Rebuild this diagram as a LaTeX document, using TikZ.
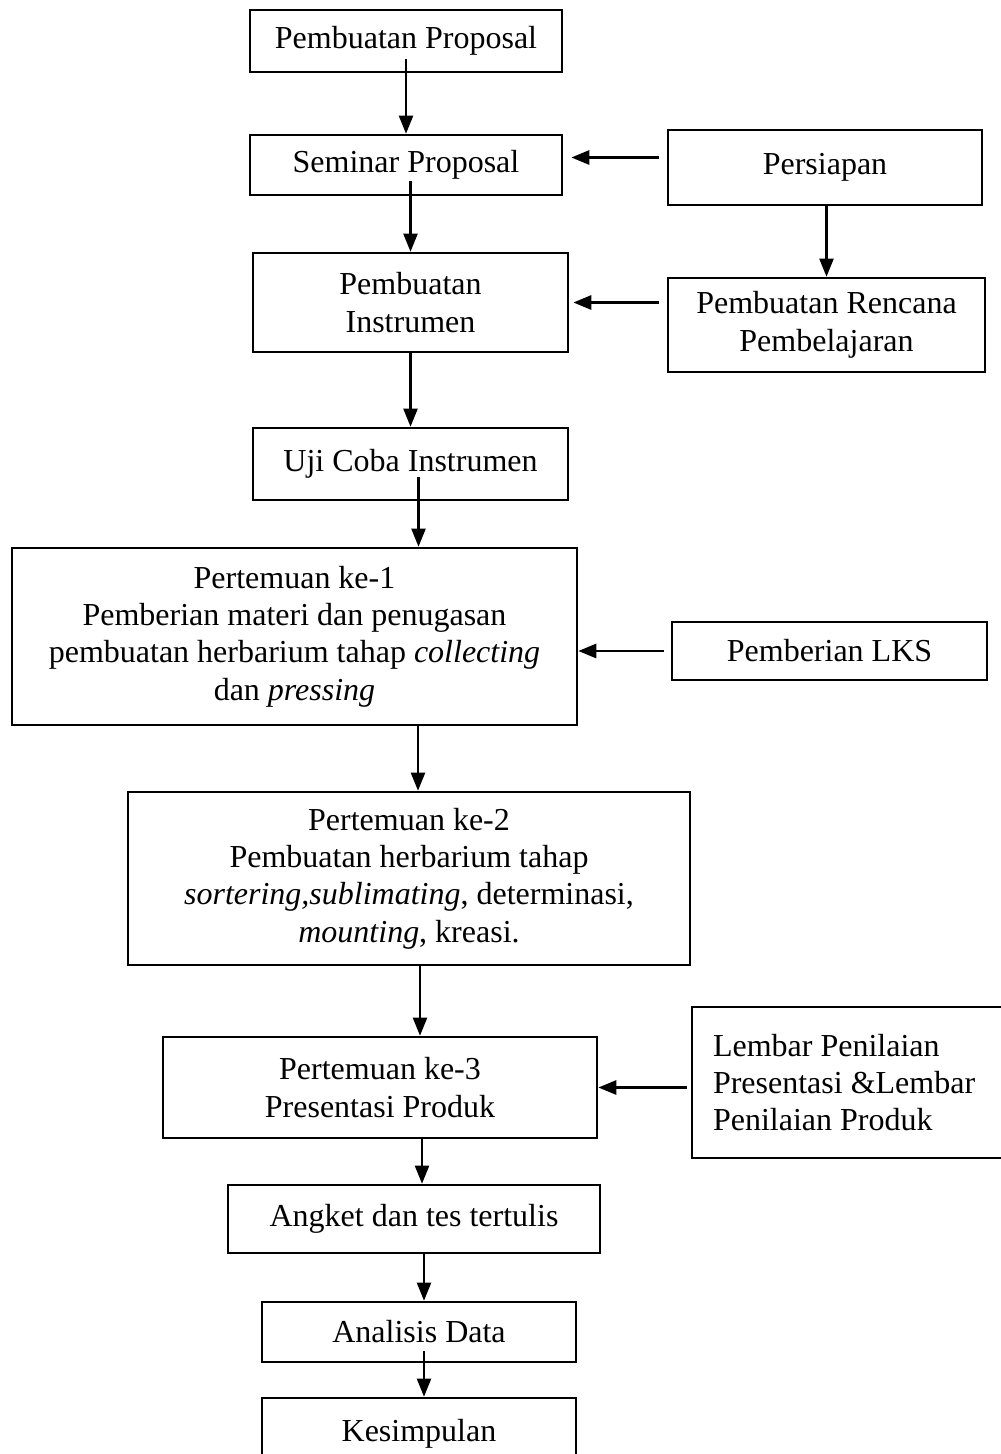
\documentclass[tikz,border=0pt]{standalone}
\usepackage{fontspec}
\setmainfont{Liberation Serif}
\usetikzlibrary{arrows.meta}
\tikzstyle{stepbox}=[draw,%
                     rectangle,%
                     line width=1.3pt,%
                     inner sep=0pt,%
                     align=center]
\tikzstyle{flow}=[->,line width=1.1pt]
\tikzstyle{feed}=[->,line width=1.4pt]

\begin{document}
\begin{tikzpicture}[x=0.5pt,y=-0.5pt,>={Triangle[length=9pt,width=7pt]},
                    font=\fontsize{16}{18.7}\selectfont]
            \useasboundingbox (0,0) rectangle (1000,1454);
            % main column
            \node[stepbox,minimum width=156pt,minimum height=31pt] (prop) at (406,41) {Pembuatan Proposal};
            \node[stepbox,minimum width=156pt,minimum height=30pt] (sem) at (406,165) {Seminar Proposal};
            \node[stepbox,minimum width=157.5pt,minimum height=49.5pt] (instr) at (410.5,302.5) {Pembuatan\\Instrumen};
            \node[stepbox,minimum width=157.5pt,minimum height=36pt] (uji) at (410.5,464) {Uji Coba Instrumen};
            \node[stepbox,minimum width=282.5pt,minimum height=88.5pt] (p1) at (294.5,636.5) {Pertemuan ke-1\\Pemberian materi dan penugasan\\pembuatan herbarium tahap \textit{collecting}\\dan \textit{pressing}};
            \node[stepbox,minimum width=281pt,minimum height=86.5pt] (p2) at (409,878.5) {Pertemuan ke-2\\Pembuatan herbarium tahap\\\textit{sortering,sublimating}, determinasi,\\\textit{mounting}, kreasi.};
            \node[stepbox,minimum width=217pt,minimum height=50.5pt] (p3) at (380,1087.5) {Pertemuan ke-3\\Presentasi Produk};
            \node[stepbox,minimum width=186pt,minimum height=34pt] (angket) at (414,1219) {Angket dan tes tertulis};
            \node[stepbox,minimum width=157pt,minimum height=30pt] (anal) at (419,1332) {Analisis Data};
            \node[stepbox,minimum width=157pt,minimum height=36pt] (kes) at (419,1434) {Kesimpulan};
            % side column
            \node[stepbox,minimum width=157pt,minimum height=37.5pt] (pers) at (825,167.5) {Persiapan};
            \node[stepbox,minimum width=158.5pt,minimum height=47pt] (renc) at (826.5,325) {Pembuatan Rencana\\Pembelajaran};
            \node[stepbox,minimum width=157.5pt,minimum height=29pt] (lks) at (829.5,651) {Pemberian LKS};
            \node[stepbox,align=flush left,text width=139pt,inner xsep=10.5pt,minimum height=75.5pt] (lembar) at (852,1082.5) {Lembar Penilaian\\Presentasi \&Lembar\\Penilaian Produk};
            % vertical arrows
            \draw [flow,shorten <=-7pt] (prop.south) -- (sem.north);
            \draw [flow,shorten <=-7.5pt] (instr.north |- sem.south) -- (instr.north);
            \draw [flow] (instr.south) -- (uji.north);
            \draw [flow,shorten <=-12pt] ([xshift=4pt]uji.south) -- ([xshift=4pt]uji.south |- p1.north);
            \draw [flow] ([xshift=4.5pt]p2.north |- p1.south) -- ([xshift=4.5pt]p2.north);
            \draw [flow] ([xshift=5.5pt]p2.south) -- ([xshift=5.5pt]p2.south |- p3.north);
            \draw [flow] ([xshift=4pt]angket.north |- p3.south) -- ([xshift=4pt]angket.north);
            \draw [flow] ([xshift=2.5pt]anal.north |- angket.south) -- ([xshift=2.5pt]anal.north);
            \draw [flow,shorten <=-6pt] ([xshift=2.5pt]anal.south) -- ([xshift=2.5pt]kes.north);
            \draw [flow] (renc.north |- pers.south) -- (renc.north);
            % side arrows
            \draw [feed,shorten <=4pt,shorten >=4pt] ([yshift=5pt]pers.west) -- ([yshift=5pt]pers.west -| sem.east);
            \draw [feed,shorten <=4pt,shorten >=2pt] (renc.west |- instr.east) -- (instr.east);
            \draw [feed,shorten <=3.5pt] (lks.west) -- (lks.west -| p1.east);
            \draw [feed,shorten <=2pt] (lembar.west |- p3.east) -- (p3.east);
  \end{tikzpicture}
\end{document}
